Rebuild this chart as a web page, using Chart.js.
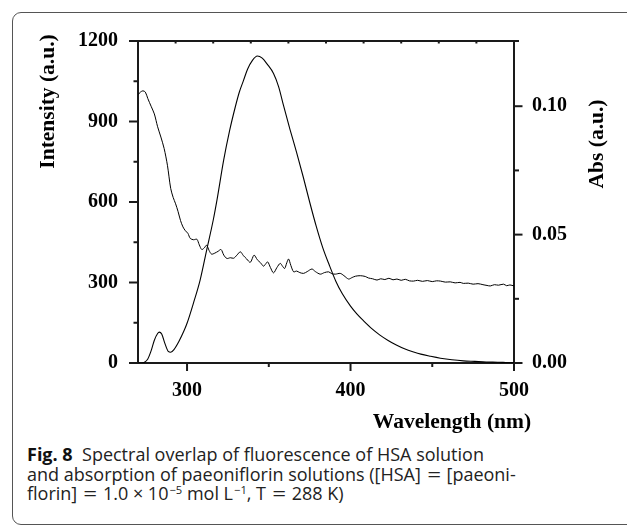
<!DOCTYPE html>
<html>
<head>
<meta charset="utf-8">
<script src="https://cdn.jsdelivr.net/npm/chart.js@4.4.1/dist/chart.umd.min.js"></script>
<style>
  html, body { margin:0; padding:0; background:#fff; width:627px; height:528px; overflow:hidden; }
  #frame { position:absolute; left:12px; top:12px; width:660px; height:513px; border:1.3px solid #555; border-radius:9px; box-sizing:border-box; }
  #wrap { position:absolute; left:0; top:0; width:627px; height:440px; }
  #cap { position:absolute; left:27px; top:445px; font-family:'Open Sans', sans-serif; font-size:18px; line-height:19.5px; color:#222; white-space:nowrap; }
  #cap b { font-weight:700; color:#111; }
  #cap sup { font-size:0.62em; vertical-align:0; position:relative; top:-0.55em; line-height:0; margin-left:1px; }
  #cap .eq { display:inline-block; transform:scaleX(1.35); margin:0 3px; }
</style>
</head>
<body>
<div id="frame"></div>
<div id="wrap"><canvas id="c" width="627" height="440"></canvas></div>
<div id="cap"><b>Fig. 8</b>&nbsp; Spectral overlap of fluorescence of HSA solution<br>and absorption of paeoniflorin solutions ([HSA] <span class="eq">=</span> [paeoni-<br>florin] <span class="eq">=</span> 1.0 × 10<sup>−5</sup> mol L<sup>−1</sup>, T <span class="eq">=</span> 288 K)</div>
<script>
// ---- Data ----
const flWavelength = [270, 272, 274, 276, 278, 280, 282, 283, 284.5, 286.5, 288.5, 290, 292, 295, 298, 300, 304, 308, 312, 316, 318.3, 322.4, 326, 329.5, 332, 334.6, 337, 340, 343, 346, 349, 352.9, 356, 359, 363, 367, 371, 375, 379, 383, 387, 391, 395, 400, 404, 408, 413, 418, 423, 428, 433, 438.6, 443, 449, 455, 462, 469, 476, 483, 490, 495, 500];
const flIntensity  = [0, 0, 3, 15, 45, 85, 110, 115, 108, 72, 43, 40, 50, 80, 118, 148, 225, 309, 421, 532, 607, 756, 865, 954, 1010, 1054, 1095, 1128, 1144, 1136, 1114, 1079, 1030, 960, 870, 785, 695, 600, 510, 430, 365, 305, 258, 212, 182, 157, 128, 104, 84, 67, 53, 41, 33, 25, 18, 12, 8, 6, 4, 3, 2, 1];

const absWavelength = [270, 271.5, 273, 274.5, 276, 278, 280, 282, 284, 286, 288, 290, 291.5, 293, 294.5, 296, 297.5, 299, 300.5, 302, 304, 306, 307.5, 309, 310.5, 312, 313.5, 315, 317, 319, 320.8, 322.5, 324.4, 326.5, 328.5, 330.5, 332.6, 334.5, 336.5, 338.7, 341, 343, 345, 346.8, 348, 349.3, 351, 352.9, 355, 357, 358.5, 359.7, 361, 362.1, 363.5, 365.2, 367, 369, 371.3, 373.5, 376.4, 378.5, 381.5, 384, 386.6, 388.5, 390.7, 393.7, 396, 398.8, 401, 403, 406, 409, 411, 413.5, 416.2, 418.5, 421, 423.5, 426, 428.4, 431, 433.5, 436, 438.6, 441, 444, 447, 450, 452.5, 455, 458, 461, 464, 467, 469, 472, 475, 478, 481, 483.5, 485.5, 488, 490.5, 493.6, 495.5, 497.5, 500];
const absValue = [0.1045, 0.1055, 0.106, 0.1055, 0.103, 0.1, 0.097, 0.092, 0.088, 0.0835, 0.077, 0.068, 0.0645, 0.062, 0.059, 0.0555, 0.053, 0.0515, 0.0505, 0.0485, 0.048, 0.0482, 0.046, 0.0442, 0.0448, 0.0459, 0.0438, 0.0424, 0.0428, 0.0435, 0.0442, 0.042, 0.0407, 0.041, 0.0408, 0.042, 0.0433, 0.0418, 0.0405, 0.0392, 0.042, 0.0402, 0.039, 0.0377, 0.0385, 0.0394, 0.0372, 0.0351, 0.0372, 0.0388, 0.0376, 0.0368, 0.039, 0.0405, 0.038, 0.0355, 0.0358, 0.0352, 0.0349, 0.0356, 0.0366, 0.0356, 0.0346, 0.0352, 0.0355, 0.0348, 0.0346, 0.0349, 0.034, 0.0327, 0.0333, 0.0338, 0.034, 0.0337, 0.0331, 0.0328, 0.0323, 0.0328, 0.0325, 0.033, 0.0324, 0.0327, 0.0322, 0.0326, 0.032, 0.0319, 0.0322, 0.0318, 0.0321, 0.0317, 0.032, 0.0319, 0.0315, 0.0316, 0.0312, 0.0314, 0.031, 0.0311, 0.0307, 0.0309, 0.0305, 0.0302, 0.03, 0.0305, 0.0303, 0.0307, 0.0301, 0.0304, 0.03];

// ---- Axes / ticks ----
const xMajorTicks = [300, 400, 500];
const xMinorTicks = [350, 450];
const xTopTicks = [293, 316, 339, 362, 385, 408, 431, 454, 477];
const yMajorTicks = [0, 300, 600, 900, 1200];
const yMinorTicks = [150, 450, 750, 1050];
const yTickLabels = ['0', '300', '600', '900', '1200'];
const y2MajorTicks = [0, 0.05, 0.10];
const y2MinorTicks = [0.025, 0.075];
const y2TickLabels = ['0.00', '0.05', '0.10'];
const xTickLabels = ['300', '400', '500'];
const xTitle = 'Wavelength (nm)';
const yTitle = 'Intensity (a.u.)';
const y2Title = 'Abs (a.u.)';

const flPoints = flWavelength.map((w, i) => ({x: w, y: flIntensity[i]}));
const absPoints = absWavelength.map((w, i) => ({x: w, y: absValue[i]}));

const tickFont = {family: "'Liberation Serif', 'Times New Roman', serif", weight: 'bold', size: 20};
const titleFont = "bold 21.5px 'Liberation Serif', 'Times New Roman', serif";
const axisColor = '#1a1a1a';

const setTicks = (vals) => (scale) => { scale.ticks = vals.map(v => ({value: v})); };
const labelFrom = (vals, labels) => (v) => { const i = vals.indexOf(v); return i >= 0 ? labels[i] : ''; };

const frameTicks = {
  id: 'frameTicks',
  afterDraw(chart) {
    const ctx = chart.ctx;
    const s = chart.scales;
    const a = chart.chartArea;
    ctx.save();
    ctx.strokeStyle = axisColor;
    ctx.lineWidth = 2;
    ctx.lineCap = 'butt';
    const hTick = (scale, vals, y, len) => vals.forEach(v => {
      const px = scale.getPixelForValue(v);
      ctx.beginPath(); ctx.moveTo(px, y); ctx.lineTo(px, y + len); ctx.stroke();
    });
    const vTick = (scale, vals, x, len) => vals.forEach(v => {
      const py = scale.getPixelForValue(v);
      ctx.beginPath(); ctx.moveTo(x, py); ctx.lineTo(x + len, py); ctx.stroke();
    });
    hTick(s.x, xMajorTicks, a.bottom, 8);
    hTick(s.x, xMinorTicks, a.bottom, 4);
    hTick(s.x2, xTopTicks, a.top, 2.5);
    vTick(s.y, yMajorTicks, a.left, -9);
    vTick(s.y, yMinorTicks, a.left, -4.5);
    vTick(s.y2, y2MajorTicks, a.right, 8.5);
    vTick(s.y2, y2MinorTicks, a.right, 5);
    ctx.beginPath(); ctx.moveTo(a.right, a.top); ctx.lineTo(a.right + 5, a.top); ctx.stroke();
    // axis titles
    ctx.fillStyle = '#000';
    ctx.font = titleFont;
    ctx.textBaseline = 'middle';
    ctx.textAlign = 'center';
    ctx.fillText(xTitle, 452, 422);
    ctx.save(); ctx.translate(48, 101.5); ctx.rotate(-Math.PI / 2); ctx.fillText(yTitle, 0, 0); ctx.restore();
    ctx.save(); ctx.translate(597.5, 144); ctx.rotate(-Math.PI / 2); ctx.fillText(y2Title, 0, 0); ctx.restore();
    ctx.restore();
  }
};

new Chart(document.getElementById('c'), {
  type: 'line',
  data: {
    datasets: [
      {data: flPoints, yAxisID: 'y', xAxisID: 'x', borderColor: '#000', borderWidth: 1.1, pointRadius: 0, cubicInterpolationMode: 'monotone', fill: false},
      {data: absPoints, yAxisID: 'y2', xAxisID: 'x', borderColor: '#000', borderWidth: 1.0, pointRadius: 0, tension: 0.3, fill: false}
    ]
  },
  options: {
    responsive: false,
    animation: false,
    layout: {padding: 0},
    plugins: {legend: {display: false}, tooltip: {enabled: false}},
    scales: {
      x: {
        type: 'linear', position: 'bottom', min: 270, max: 500,
        afterBuildTicks: setTicks(xMajorTicks),
        afterFit: (sc) => { sc.height = 77; },
        grid: {display: false, drawTicks: false},
        border: {display: true, color: axisColor, width: 2},
        ticks: {font: tickFont, color: '#000', padding: 16, maxRotation: 0, autoSkip: false,
          callback: labelFrom(xMajorTicks, xTickLabels)}
      },
      x2: {
        type: 'linear', position: 'top', min: 270, max: 500,
        afterFit: (sc) => { sc.height = 41; },
        grid: {display: false, drawTicks: false},
        border: {display: true, color: axisColor, width: 2},
        ticks: {display: false}
      },
      y: {
        type: 'linear', position: 'left', min: 0, max: 1200,
        afterBuildTicks: setTicks(yMajorTicks),
        afterFit: (sc) => { sc.width = 138; },
        grid: {display: false, drawTicks: false},
        border: {display: true, color: axisColor, width: 2},
        ticks: {font: tickFont, color: '#000', padding: 20, autoSkip: false,
          callback: labelFrom(yMajorTicks, yTickLabels)}
      },
      y2: {
        type: 'linear', position: 'right', min: 0, max: 0.1254,
        afterBuildTicks: setTicks(y2MajorTicks),
        afterFit: (sc) => { sc.width = 113; },
        grid: {display: false, drawTicks: false},
        border: {display: true, color: axisColor, width: 2},
        ticks: {font: tickFont, color: '#000', padding: 18, autoSkip: false,
          callback: labelFrom(y2MajorTicks, y2TickLabels)}
      }
    }
  },
  plugins: [frameTicks]
});
</script>
</body>
</html>
